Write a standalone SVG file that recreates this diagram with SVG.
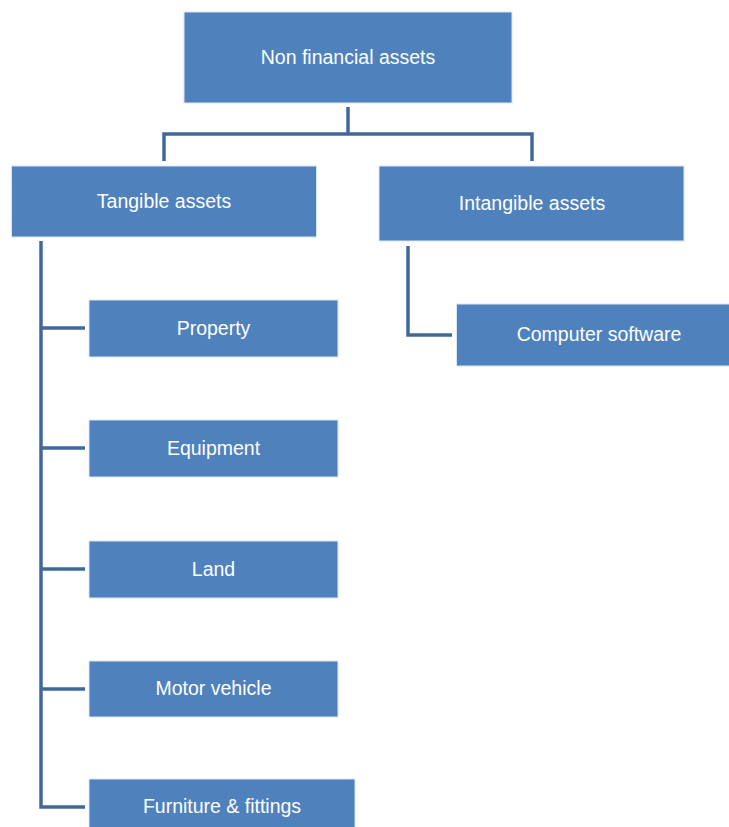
<svg xmlns="http://www.w3.org/2000/svg" width="729" height="827" viewBox="0 0 729 827">
  <style>
    .box { fill: #4F81BD; stroke: #DCE6F2; stroke-width: 1; }
    .lbl { fill: #FFFFFF; font-family: "Liberation Sans", Arial, sans-serif; font-size: 19.5px; text-anchor: middle; dominant-baseline: central; }
    .wire { fill: none; stroke: #41689A; stroke-width: 3.5; stroke-linejoin: miter; }
  </style>
  <rect width="729" height="827" fill="#FFFFFF"/>

  <g id="connectors">
    <path class="wire" d="M348 107 V134 M164 161 V134 H532 V161"/>
    <path class="wire" d="M408 246 V335 H452"/>
    <path class="wire" d="M41 241 V807 H85 M41 328 H85 M41 448 H85 M41 569 H85 M41 689 H85"/>
  </g>

  <g id="non-financial-assets">
    <rect class="box" x="184" y="12" width="328" height="91"/>
    <text class="lbl" x="348" y="57">Non financial assets</text>
  </g>

  <g id="tangible-assets">
    <rect class="box" x="11.5" y="166" width="305" height="71"/>
    <text class="lbl" x="164" y="201">Tangible assets</text>
  </g>

  <g id="intangible-assets">
    <rect class="box" x="379" y="166" width="305" height="75"/>
    <text class="lbl" x="532" y="203">Intangible assets</text>
  </g>

  <g id="computer-software">
    <rect class="box" x="456.5" y="304" width="280" height="62"/>
    <text class="lbl" x="599" y="334">Computer software</text>
  </g>

  <g id="property">
    <rect class="box" x="89" y="300" width="249" height="57"/>
    <text class="lbl" x="213.5" y="328">Property</text>
  </g>

  <g id="equipment">
    <rect class="box" x="89" y="420" width="249" height="57"/>
    <text class="lbl" x="213.5" y="448">Equipment</text>
  </g>

  <g id="land">
    <rect class="box" x="89" y="541" width="249" height="57"/>
    <text class="lbl" x="213.5" y="569">Land</text>
  </g>

  <g id="motor-vehicle">
    <rect class="box" x="89" y="661" width="249" height="56"/>
    <text class="lbl" x="213.5" y="688">Motor vehicle</text>
  </g>

  <g id="furniture-fittings">
    <rect class="box" x="89" y="779" width="266" height="60"/>
    <text class="lbl" x="222" y="806">Furniture &amp; fittings</text>
  </g>
</svg>
